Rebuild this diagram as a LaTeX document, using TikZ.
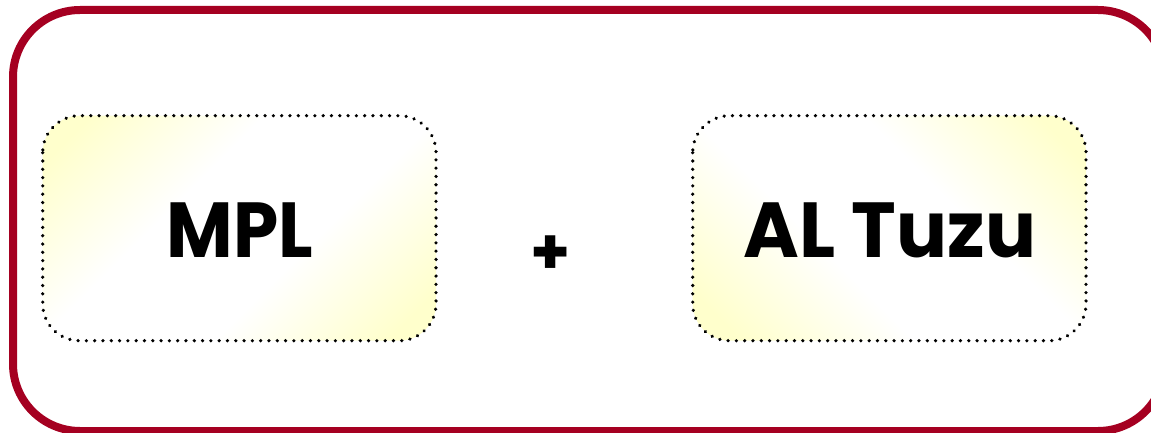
\documentclass[tikz,border=0pt]{standalone}
\usepackage{fontspec}
\usetikzlibrary{decorations.markings}
\setmainfont{Poppins}
\definecolor{frame}{HTML}{A50021}
\definecolor{ylw}{HTML}{FFFFCC}
\pgfdeclarehorizontalshading{ywy}{100bp}{color(0bp)=(ylw); color(20bp)=(ylw); color(40bp)=(white); color(60bp)=(white); color(80bp)=(ylw); color(100bp)=(ylw)}
\tikzset{
  outerframe/.style={draw=frame, line width=8pt, rounded corners=67pt},
  termfill/.style={rounded corners=37pt, shading=ywy},
  termborder/.style={rounded corners=37pt, postaction={decorate, decoration={markings, mark=between positions 0 and 1 step 8.3pt with {\fill[black] (0,0) circle (1.8pt);}}}},
  termtext/.style={font=\fontsize{78}{78}\selectfont\bfseries, inner sep=0pt, anchor=base},
}
\begin{document}
\begin{tikzpicture}[x=1pt,y=-1pt]
\useasboundingbox (0,0) rectangle (1151,433);
\draw[outerframe] (13,10) rectangle (1165,431);
\path[termfill, shading angle=-45] (42.7,115.7) rectangle (436,340.7);
\path[termborder] (42.7,115.7) rectangle (436,340.7);
\path[termfill, shading angle=45] (692.7,115.7) rectangle (1086,340.7);
\path[termborder] (692.7,115.7) rectangle (1086,340.7);
\node[termtext, xscale=0.93] (mpl) at (240,257) {MPL};
\node[termtext, xscale=0.97] (altuzu) at (890,257) {AL Tuzu};
\node[font=\fontsize{64}{64}\selectfont\bfseries, inner sep=0pt] (plus) at (551,255) {+};
\end{tikzpicture}
\end{document}
